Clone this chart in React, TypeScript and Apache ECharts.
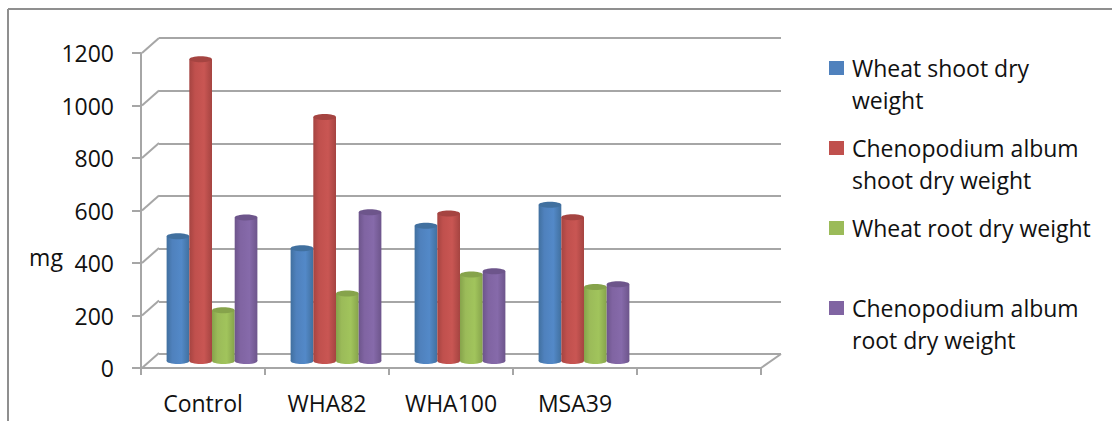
import React, { useEffect, useRef } from "react";
import * as echarts from "echarts";

const categories = ["Control", "WHA82", "WHA100", "MSA39", ""];
const yTicks = [0, 200, 400, 600, 800, 1000, 1200];
const wheatShoot = [475, 430, 515, 595];
const chenoShoot = [1150, 930, 562, 548];
const wheatRoot = [193, 257, 330, 282];
const chenoRoot = [547, 567, 342, 292];
const names = [
  "Wheat shoot dry weight",
  "Chenopodium album shoot dry weight",
  "Wheat root dry weight",
  "Chenopodium album root dry weight",
];
const legendLines: Record<string, string> = {
  "Wheat shoot dry weight": "Wheat shoot dry\nweight",
  "Chenopodium album shoot dry weight": "Chenopodium album\nshoot dry weight",
  "Wheat root dry weight": "Wheat root dry weight\n ",
  "Chenopodium album root dry weight": "Chenopodium album\nroot dry weight",
};
const palette = [
  { main: "#4f81bd", edge: "#41709f", light: "#5389c8", cap: "#41709f" },
  { main: "#c0504d", edge: "#a54441", light: "#c95653", cap: "#a54441" },
  { main: "#9bbb59", edge: "#86a34b", light: "#a1c45c", cap: "#86a34b" },
  { main: "#8064a2", edge: "#6d558b", light: "#866aaa", cap: "#6d558b" },
];
const seriesValues = [wheatShoot, chenoShoot, wheatRoot, chenoRoot];

const FONT = "'Open Sans', sans-serif";
const GRID_COLOR = "#a6a6a6";
const FRAME_COLOR = "#8f8f8f";

function cylinder(si: number) {
  return (params: any, api: any) => {
    const cat = api.value(0);
    const top = api.coord([cat, api.value(1)]);
    const base = api.coord([cat, 0]);
    const w = api.size([1, 0])[0] * 0.183;
    const cx = top[0] + (si - 1.5) * w;
    const ry = 3;
    const c = palette[si];
    const grad = new echarts.graphic.LinearGradient(0, 0, 1, 0, [
      { offset: 0, color: c.edge },
      { offset: 0.25, color: c.main },
      { offset: 0.65, color: c.light },
      { offset: 1, color: c.edge },
    ]);
    return {
      type: "group",
      children: [
        { type: "ellipse", shape: { cx, cy: base[1], rx: w / 2, ry }, style: { fill: grad } },
        {
          type: "rect",
          shape: { x: cx - w / 2, y: top[1], width: w, height: base[1] - top[1] },
          style: { fill: grad },
        },
        { type: "ellipse", shape: { cx, cy: top[1], rx: w / 2, ry }, style: { fill: c.cap } },
      ],
    };
  };
}

function depthLines(params: any, api: any) {
  const v = api.value(0);
  const cs = params.coordSys;
  const y = api.coord([0, v])[1];
  const children: any[] = [
    {
      type: "line",
      shape: { x1: cs.x + 1, y1: y, x2: cs.x + 18, y2: y - 15 },
      style: { stroke: GRID_COLOR, lineWidth: 2 },
    },
  ];
  if (v === 0) {
    children.push({
      type: "line",
      shape: { x1: cs.x + cs.width, y1: y, x2: cs.x + cs.width + 20, y2: y - 14 },
      style: { stroke: GRID_COLOR, lineWidth: 2 },
    });
  }
  return { type: "group", children };
}

export default function App() {
  const ref = useRef<HTMLDivElement>(null);
  useEffect(() => {
    const chart = echarts.init(ref.current!, null, { renderer: "svg" });
    const series: any[] = [
      {
        type: "custom",
        name: "depth",
        xAxisIndex: 1,
        yAxisIndex: 1,
        silent: true,
        z: 1,
        data: yTicks.map((v) => [v]),
        encode: { y: 0 },
        renderItem: depthLines,
      },
      ...names.map((name, si) => ({
        type: "custom",
        name,
        xAxisIndex: 2,
        yAxisIndex: 2,
        z: 3,
        itemStyle: { color: palette[si].main },
        data: seriesValues[si].map((v, i) => [i, v]),
        encode: { x: 0, y: 1 },
        renderItem: cylinder(si),
      })),
    ];
    chart.setOption({
      animation: false,
      backgroundColor: "#ffffff",
      textStyle: { fontFamily: FONT },
      grid: [
        { left: 159, right: 331, top: 38, bottom: 67 },
        { left: 141, right: 351, top: 53, bottom: 53 },
        { left: 150, right: 342, top: 46, bottom: 60 },
      ],
      xAxis: [
        { type: "category", gridIndex: 0, data: categories, show: false },
        {
          type: "category",
          gridIndex: 1,
          data: categories,
          axisLine: { show: true, lineStyle: { color: GRID_COLOR, width: 2 } },
          axisTick: { show: true, length: 7, lineStyle: { color: GRID_COLOR, width: 2 } },
          axisLabel: { color: "#111", fontSize: 23, fontFamily: FONT, margin: 23, interval: 0 },
        },
        { type: "category", gridIndex: 2, data: categories, show: false },
      ],
      yAxis: [
        {
          type: "value",
          gridIndex: 0,
          min: 0,
          max: 1200,
          interval: 200,
          axisLine: { show: false },
          axisTick: { show: false },
          axisLabel: { show: false },
          splitLine: { show: true, lineStyle: { color: GRID_COLOR, width: 2 } },
        },
        {
          type: "value",
          gridIndex: 1,
          min: 0,
          max: 1200,
          interval: 200,
          axisLine: { show: true, lineStyle: { color: GRID_COLOR, width: 2 } },
          axisTick: { show: true, length: 9, lineStyle: { color: GRID_COLOR, width: 2 } },
          axisLabel: {
            color: "#111",
            fontSize: 23,
            fontFamily: FONT,
            margin: 27,
            formatter: (v: number) => String(v),
          },
          splitLine: { show: false },
        },
        { type: "value", gridIndex: 2, min: 0, max: 1200, interval: 200, show: false },
      ],
      legend: {
        orient: "vertical",
        left: 824,
        top: 47,
        selectedMode: false,
        data: names,
        itemWidth: 18,
        itemHeight: 46,
        itemGap: 16,
        icon: "path://M0 0H15V14H0Z M18 46h0",
        formatter: (n: string) => legendLines[n],
        textStyle: { color: "#111", fontSize: 23, lineHeight: 32, fontFamily: FONT },
      },
      graphic: [
        {
          type: "line",
          shape: { x1: 8, y1: 9, x2: 1112, y2: 9 },
          style: { stroke: FRAME_COLOR, lineWidth: 2 },
        },
        {
          type: "line",
          shape: { x1: 8, y1: 9, x2: 8, y2: 421 },
          style: { stroke: FRAME_COLOR, lineWidth: 2 },
        },
        {
          type: "text",
          x: 46,
          y: 257,
          style: {
            text: "mg",
            fill: "#111",
            font: `23px ${FONT}`,
            align: "center",
            verticalAlign: "middle",
          },
        },
      ],
      series,
    });
    return () => chart.dispose();
  }, []);
  return (
    <div
      ref={ref}
      style={{ position: "absolute", left: 0, top: 0, width: 1112, height: 421 }}
    />
  );
}
